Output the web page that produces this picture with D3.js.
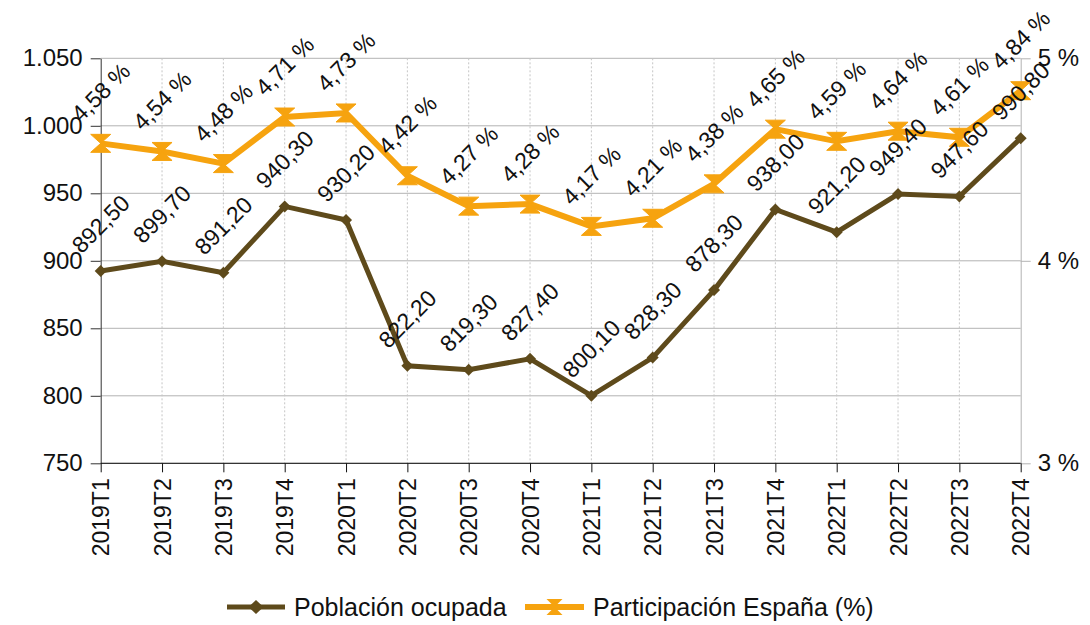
<!DOCTYPE html>
<html>
<head>
<meta charset="utf-8">
<script src="https://cdn.jsdelivr.net/npm/d3@7"></script>
<style>
  body { margin: 0; background: #fff; }
  svg { display: block; font-family: "Liberation Sans", Arial, sans-serif; }
</style>
</head>
<body>
<div id="chart"></div>
<script>
var width = 1090;
var height = 625;

// data
var categories = ["2019T1", "2019T2", "2019T3", "2019T4", "2020T1", "2020T2", "2020T3", "2020T4",
  "2021T1", "2021T2", "2021T3", "2021T4", "2022T1", "2022T2", "2022T3", "2022T4"];
var poblacion = [892.5, 899.7, 891.2, 940.3, 930.2, 822.2, 819.3, 827.4,
  800.1, 828.3, 878.3, 938.0, 921.2, 949.4, 947.6, 990.8];
var participacion = [4.58, 4.54, 4.48, 4.71, 4.73, 4.42, 4.27, 4.28,
  4.17, 4.21, 4.38, 4.65, 4.59, 4.64, 4.61, 4.84];
var leftTicks = [750, 800, 850, 900, 950, 1000, 1050];
var rightTicks = [3, 4, 5];
var seriesNames = ["Población ocupada", "Participación España (%)"];

var brown = "#5e4a1b";
var orange = "#f6a30f";

var plotLeft = 100.7, plotRight = 1020.7, plotTop = 58.3, plotBottom = 463.3;

var es = d3.formatLocale({ decimal: ",", thousands: ".", grouping: [3], currency: ["", " €"] });
var fmtThousands = es.format(",");
var fmt2 = es.format(".2f");

var x = d3.scalePoint().domain(categories).range([plotLeft, plotRight]);
var yL = d3.scaleLinear().domain([750, 1050]).range([plotBottom, plotTop]);
var yR = d3.scaleLinear().domain([3, 5]).range([plotBottom, plotTop]);

var svg = d3.select("#chart").append("svg")
  .attr("width", width)
  .attr("height", height);

// horizontal grid
svg.append("g").selectAll("line").data(leftTicks).enter().append("line")
  .attr("x1", plotLeft).attr("x2", plotRight)
  .attr("y1", d => yL(d)).attr("y2", d => yL(d))
  .attr("stroke", "#b3b3b3").attr("stroke-width", 1);

// vertical dotted grid
svg.append("g").selectAll("line").data(categories.slice(1, -1)).enter().append("line")
  .attr("x1", d => x(d)).attr("x2", d => x(d))
  .attr("y1", plotTop).attr("y2", plotBottom)
  .attr("stroke", "#c6c6c6").attr("stroke-width", 1)
  .attr("stroke-dasharray", "2,2");

// left axis
var leftAxis = svg.append("g")
  .attr("transform", `translate(${plotLeft},0)`)
  .call(d3.axisLeft(yL).tickValues(leftTicks).tickSize(10).tickSizeOuter(0).tickPadding(8)
    .tickFormat(d => fmtThousands(d)));
leftAxis.select(".domain").attr("stroke", "#333");
leftAxis.selectAll(".tick line").attr("stroke", "#333");
leftAxis.selectAll("text").attr("font-size", "24px").attr("fill", "#111").attr("font-family", null);

// right axis
var rightAxis = svg.append("g")
  .attr("transform", `translate(${plotRight},0)`)
  .call(d3.axisRight(yR).tickValues(rightTicks).tickSize(10).tickSizeOuter(0).tickPadding(7)
    .tickFormat(d => d + " %"));
rightAxis.select(".domain").attr("stroke", "#b3b3b3");
rightAxis.selectAll(".tick line").attr("stroke", "#b3b3b3");
rightAxis.selectAll("text").attr("font-size", "24px").attr("fill", "#111").attr("font-family", null);

// bottom axis
var bottomAxis = svg.append("g")
  .attr("transform", `translate(0,${plotBottom})`)
  .call(d3.axisBottom(x).tickSize(9).tickSizeOuter(0).tickPadding(6));
bottomAxis.select(".domain").attr("stroke", "#111").attr("d", `M${plotLeft},0H${plotRight}`);
bottomAxis.selectAll(".tick line").attr("stroke", "#111");
bottomAxis.selectAll("text")
  .attr("font-size", "23px").attr("fill", "#111").attr("font-family", null)
  .attr("text-anchor", "end")
  .attr("x", 0).attr("y", 0).attr("dy", "0.35em")
  .attr("transform", "translate(0,15) rotate(-90)");

// lines
var lineL = d3.line().x((d, i) => x(categories[i])).y(d => yL(d));
var lineR = d3.line().x((d, i) => x(categories[i])).y(d => yR(d));

svg.append("path").datum(poblacion)
  .attr("d", lineL).attr("fill", "none")
  .attr("stroke", brown).attr("stroke-width", 5).attr("stroke-linejoin", "miter");

svg.append("path").datum(participacion)
  .attr("d", lineR).attr("fill", "none")
  .attr("stroke", orange).attr("stroke-width", 6).attr("stroke-linejoin", "miter");

// markers
var diamond = "M0,-6L6,0L0,6L-6,0Z";
var hourglass = "M-10,-9L10,-9L0,0L10,9L-10,9L0,0Z";

svg.append("g").selectAll("path").data(poblacion).enter().append("path")
  .attr("d", diamond)
  .attr("transform", (d, i) => `translate(${x(categories[i])},${yL(d)})`)
  .attr("fill", brown);

svg.append("g").selectAll("path").data(participacion).enter().append("path")
  .attr("d", hourglass)
  .attr("transform", (d, i) => `translate(${x(categories[i])},${yR(d)})`)
  .attr("fill", orange).attr("stroke", orange).attr("stroke-width", 1);

// data labels, rotated 45 degrees above each point
svg.append("g").selectAll("text").data(poblacion).enter().append("text")
  .attr("transform", (d, i) => `translate(${x(categories[i])},${yL(d) - 47}) rotate(-45)`)
  .attr("text-anchor", "middle")
  .attr("dy", "0.35em")
  .attr("font-size", "23px")
  .attr("fill", "#111")
  .text(d => fmt2(d));

svg.append("g").selectAll("text").data(participacion).enter().append("text")
  .attr("transform", (d, i) => `translate(${x(categories[i])},${yR(d) - 51}) rotate(-45)`)
  .attr("text-anchor", "middle")
  .attr("dy", "0.35em")
  .attr("font-size", "23px")
  .attr("fill", "#111")
  .text(d => fmt2(d) + " %");

// legend
var legend = svg.append("g").attr("transform", "translate(0,607)");
var legendItems = [
  { name: seriesNames[0], color: brown, x0: 227, x1: 285, tx: 294, mark: "M0,-7L7.5,0L0,7L-7.5,0Z", w: 5 },
  { name: seriesNames[1], color: orange, x0: 525, x1: 584, tx: 593, mark: "M-8,-8L8,-8L0,0L8,8L-8,8L0,0Z", w: 6 }
];
var li = legend.selectAll("g").data(legendItems).enter().append("g");
li.append("line")
  .attr("x1", d => d.x0).attr("x2", d => d.x1)
  .attr("y1", 0).attr("y2", 0)
  .attr("stroke", d => d.color).attr("stroke-width", d => d.w);
li.append("path")
  .attr("d", d => d.mark)
  .attr("transform", d => `translate(${(d.x0 + d.x1) / 2},0)`)
  .attr("fill", d => d.color);
li.append("text")
  .attr("x", d => d.tx).attr("y", 0).attr("dy", "0.35em")
  .attr("font-size", "25px").attr("fill", "#111")
  .text(d => d.name);
</script>
</body>
</html>
